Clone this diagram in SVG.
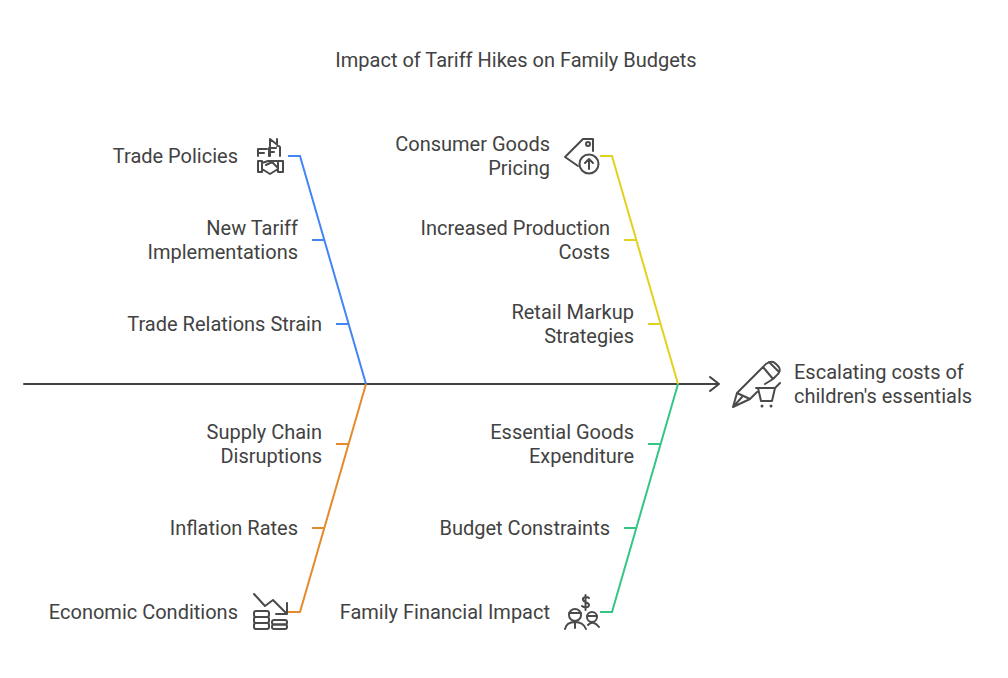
<svg xmlns="http://www.w3.org/2000/svg" width="1008" height="678" viewBox="0 0 1008 678">
<style>
text{font-family:"Roboto","Liberation Sans",sans-serif;font-size:20px;fill:#424242}
.e{text-anchor:end}
.c{fill:none;stroke-width:2;stroke-linecap:butt;stroke-linejoin:miter}
.i{fill:none;stroke:#4a4a4a;stroke-width:2;stroke-linecap:round;stroke-linejoin:round}
.b{stroke:#4285f4}.y{stroke:#e3d11f}.o{stroke:#e58a2c}.g{stroke:#35c585}
</style>
<rect width="1008" height="678" fill="#fff"/>
<text id="title" x="516" y="67" text-anchor="middle">Impact of Tariff Hikes on Family Budgets</text>
<g id="connectors">
<path class="c" d="M24 384H719M710 377L719 384L710 391" stroke="#424242" style="stroke-linecap:round;stroke-linejoin:round"/>
<path class="c b" d="M288 156H300L366 384M312 240H324M336 324H348"/>
<path class="c y" d="M600 156H612L678 384M624 240H636M648 324H660"/>
<path class="c o" d="M288 612H300L366 384M312 528H324M336 444H348"/>
<path class="c g" d="M600 612H612L678 384M624 528H636M648 444H660"/>
</g>
<g id="trade-policies"><text class="e" x="238" y="163">Trade Policies</text>
<path class="i" d="M270 156V139L280 147V156M277 139V146M258 156V149H267M258 153H264M269 156V148H276M269 152H274M258 161H262V172H258ZM278 161H283V172H278ZM262 163L268 161H278M262 169L270 174L278 169M266 165L272 162L278 168"/></g>
<g id="new-tariff"><text class="e" x="298" y="235">New Tariff</text><text class="e" x="298" y="259">Implementations</text></g>
<g id="trade-relations"><text class="e" x="322" y="331">Trade Relations Strain</text></g>
<g id="consumer-goods"><text class="e" x="550" y="151">Consumer Goods</text><text class="e" x="550" y="175">Pricing</text>
<path class="i" d="M578 166L565 157L583 139H593V151"/><circle class="i" cx="588" cy="144" r="2"/><circle class="i" cx="589" cy="164" r="9.500"/><path class="i" d="M589 169V159M585 163L589 159L593 163"/></g>
<g id="production-costs"><text class="e" x="610" y="235">Increased Production</text><text class="e" x="610" y="259">Costs</text></g>
<g id="retail-markup"><text class="e" x="634" y="319">Retail Markup</text><text class="e" x="634" y="343">Strategies</text></g>
<g id="supply-chain"><text class="e" x="322" y="439">Supply Chain</text><text class="e" x="322" y="463">Disruptions</text></g>
<g id="inflation"><text class="e" x="298" y="535">Inflation Rates</text></g>
<g id="economic"><text class="e" x="238" y="619">Economic Conditions</text>
<path class="i" d="M254 594L265 606L273 600L287 614M276 614H287V603"/><rect class="i" x="254" y="611" width="15" height="6" rx="2"/><rect class="i" x="254" y="617" width="15" height="6" rx="2"/><rect class="i" x="254" y="623" width="15" height="6" rx="2"/><rect class="i" x="272" y="620" width="15" height="4.500" rx="2"/><rect class="i" x="272" y="624.500" width="15" height="4.500" rx="2"/></g>
<g id="essential-goods"><text class="e" x="634" y="439">Essential Goods</text><text class="e" x="634" y="463">Expenditure</text></g>
<g id="budget"><text class="e" x="610" y="535">Budget Constraints</text></g>
<g id="family"><text class="e" x="550" y="619">Family Financial Impact</text>
<circle class="i" cx="575" cy="615" r="6"/><circle class="i" cx="592" cy="617" r="5"/><path class="i" d="M569 613H581M587 616H597M565 629C566 624 570 622 575 622C580 622 584 624 586 629M575 622V628M588 625C592 621 596 623 599 627M589 598C587 596 582 597 583 600C584 603 589 602 589 605C589 608 584 608 582 606M585.500 595V610"/></g>
<g id="effect"><text x="794" y="379">Escalating costs of</text><text x="794" y="403">children's essentials</text>
<path class="i" d="M757 392L750 399L733 407L737 393L763 367C767 362 772 360 776 364L778 366C781 369 780 373 776 376L773 379L765 384M737 393L750 399M733 407L742 397M763 367L773 379M769 362L779 372M756 388H775L780 383M758 388L761 401H772L775 388"/><circle cx="762" cy="406" r="1.500" fill="#4a4a4a"/><circle cx="771" cy="406" r="1.500" fill="#4a4a4a"/></g>
</svg>
